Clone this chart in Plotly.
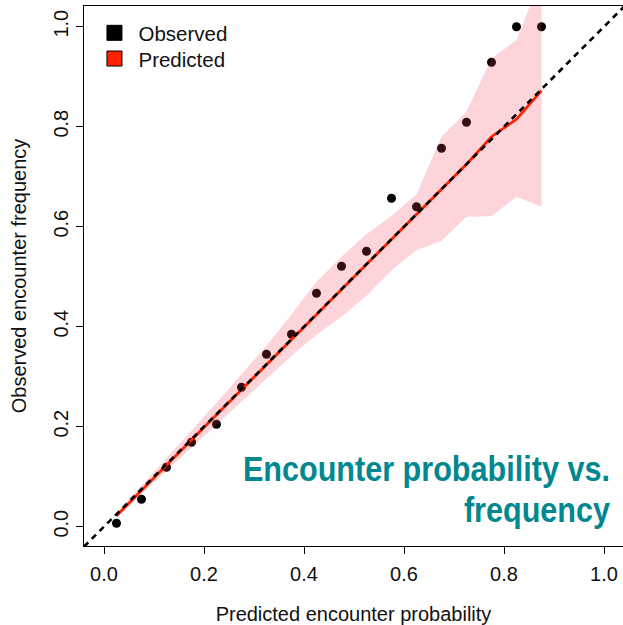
import plotly.graph_objects as go

# ---- data ----
bin_centers = [0.025, 0.075, 0.125, 0.175, 0.225, 0.275, 0.325, 0.375, 0.425,
               0.475, 0.525, 0.575, 0.625, 0.675, 0.725, 0.775, 0.825, 0.875]
observed = [0.007, 0.055, 0.119, 0.169, 0.205, 0.279, 0.345, 0.385, 0.467,
            0.521, 0.551, 0.657, 0.640, 0.757, 0.809, 0.929, 1.000, 1.000]
predicted = [0.022, 0.073, 0.123, 0.174, 0.224, 0.274, 0.324, 0.374, 0.424,
             0.474, 0.524, 0.574, 0.624, 0.674, 0.725, 0.780, 0.815, 0.872]
band_lower = [0.017, 0.066, 0.112, 0.158, 0.203, 0.250, 0.296, 0.342, 0.384,
              0.420, 0.462, 0.513, 0.553, 0.572, 0.620, 0.621, 0.660, 0.640]
band_upper = [0.028, 0.082, 0.138, 0.192, 0.248, 0.304, 0.362, 0.425, 0.490,
              0.540, 0.585, 0.622, 0.665, 0.780, 0.830, 0.937, 0.973, 1.100]
x_range = [-0.04, 1.038]
y_range = [-0.0386, 1.0414]
tick_vals = [0.0, 0.2, 0.4, 0.6, 0.8, 1.0]
tick_text = ["0.0", "0.2", "0.4", "0.6", "0.8", "1.0"]
identity_ends = [-0.04, 1.04]

FONT = "Liberation Sans, Arial, Helvetica, sans-serif"
RED = "#FF2200"
TEAL = "#00878F"

fig = go.Figure()

# observed points (drawn first so the band tints them)
fig.add_trace(go.Scatter(x=bin_centers, y=observed, mode="markers",
                         marker=dict(color="black", size=9),
                         showlegend=False, hoverinfo="skip"))
# uncertainty band
fig.add_trace(go.Scatter(x=bin_centers, y=band_lower, mode="lines",
                         line=dict(width=0), showlegend=False, hoverinfo="skip"))
fig.add_trace(go.Scatter(x=bin_centers, y=band_upper, mode="lines",
                         line=dict(width=0), fill="tonexty",
                         fillcolor="rgba(240,60,80,0.22)",
                         showlegend=False, hoverinfo="skip"))
# predicted line
fig.add_trace(go.Scatter(x=bin_centers, y=predicted, mode="lines",
                         line=dict(color=RED, width=2.8),
                         showlegend=False, hoverinfo="skip"))
# 1:1 dashed reference
fig.add_trace(go.Scatter(x=identity_ends, y=identity_ends, mode="lines",
                         line=dict(color="black", width=2.6, dash="6px,5px"),
                         showlegend=False, hoverinfo="skip"))

# legend entries (one legend box each, for exact row spacing)
fig.add_trace(go.Scatter(x=[None], y=[None], mode="markers", name="Observed",
                         legend="legend",
                         marker=dict(symbol="square", size=15, color="black",
                                     line=dict(color="black", width=1))))
fig.add_trace(go.Scatter(x=[None], y=[None], mode="markers", name="Predicted",
                         legend="legend2",
                         marker=dict(symbol="square", size=15, color=RED,
                                     line=dict(color="black", width=1))))

axis_common = dict(
    showgrid=False, zeroline=False, automargin=False,
    showline=True, linecolor="black", linewidth=1,
    ticks="outside", ticklen=7, tickwidth=1, tickcolor="black",
    tickvals=tick_vals, ticktext=tick_text,
    tickfont=dict(family=FONT, size=20, color="#111111"),
)

legend_common = dict(xanchor="left", yanchor="middle", bgcolor="rgba(0,0,0,0)",
                     font=dict(family=FONT, size=20.5, color="#111111"),
                     itemwidth=38)

fig.update_layout(
    width=623, height=625, autosize=False,
    margin=dict(l=84, r=0, t=6, b=79),
    paper_bgcolor="white", plot_bgcolor="white",
    font=dict(family=FONT, color="#111111"),
    xaxis=dict(range=x_range, mirror=True, ticklabelstandoff=3,
               title=dict(text="Predicted encounter probability",
                          font=dict(family=FONT, size=20), standoff=22),
               **axis_common),
    yaxis=dict(range=y_range, mirror=False, tickangle=-90,
               title=dict(text="Observed encounter frequency",
                          font=dict(family=FONT, size=20), standoff=18),
               **axis_common),
    legend=dict(x=0.012, y=0.95, **legend_common),
    legend2=dict(x=0.012, y=0.9024, **legend_common),
    annotations=[
        dict(text="<b>Encounter probability vs.</b>", xref="paper", yref="paper",
             x=0.979, y=0.1426, xanchor="right", yanchor="middle", showarrow=False,
             font=dict(family=FONT, size=36, color=TEAL)),
        dict(text="<b>frequency</b>", xref="paper", yref="paper",
             x=0.979, y=0.0667, xanchor="right", yanchor="middle", showarrow=False,
             font=dict(family=FONT, size=36, color=TEAL)),
    ],
)

# remove the page margin; narrow the bold caption horizontally (condensed look)
post_js = """
document.body.style.margin = '0';
function squeezeCaption(){
  document.querySelectorAll('.annotation-text').forEach(function(t){
    t.style.transformBox = 'fill-box';
    t.style.transformOrigin = 'right center';
    t.style.transform = 'scaleX(0.85)';
  });
}
squeezeCaption();
var gdq = document.getElementById('{plot_id}');
if (gdq && gdq.on) { gdq.on('plotly_afterplot', squeezeCaption); }
"""

fig.write_html("out.html", post_script=post_js,
               config={"displayModeBar": False})
